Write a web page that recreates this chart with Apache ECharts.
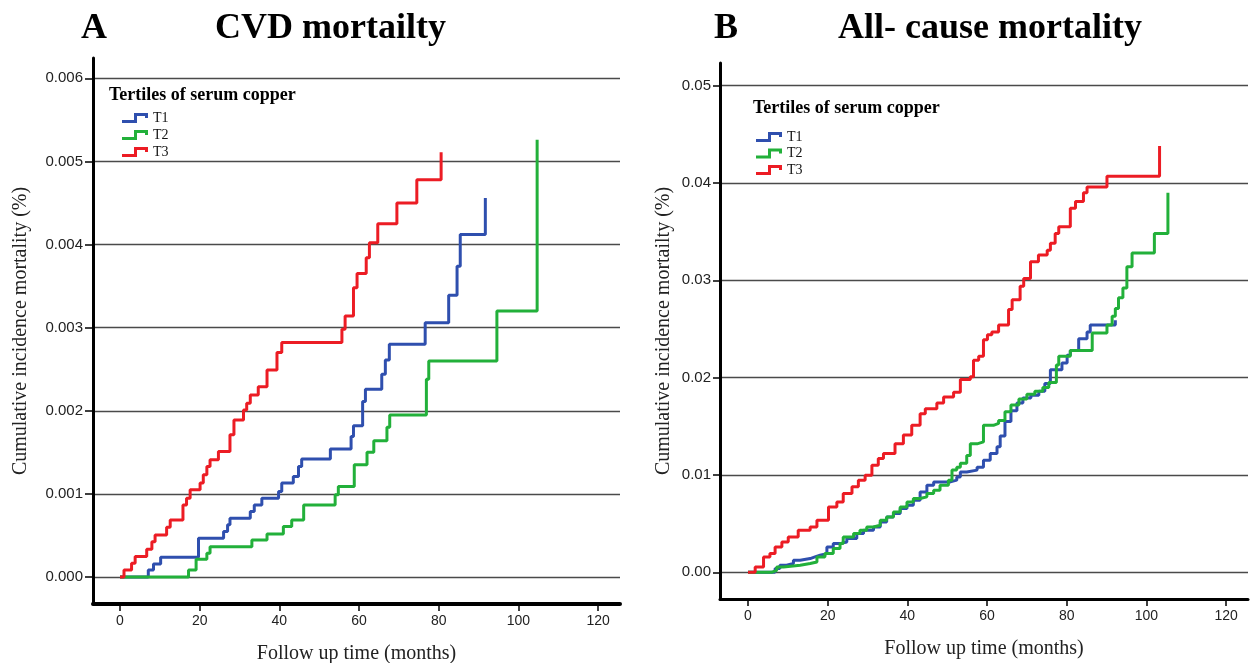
<!DOCTYPE html>
<html>
<head>
<meta charset="utf-8">
<script src="https://cdn.jsdelivr.net/npm/echarts@6.0.0/dist/echarts.min.js"></script>
<style>
  html, body { margin: 0; padding: 0; background: #fff; }
  #chart { width: 1250px; height: 663px; }
</style>
</head>
<body>
<div id="chart"></div>
<script>
// tick values
const monthTicks = [0, 20, 40, 60, 80, 100, 120]
const cvdTicks = [0, 0.001, 0.002, 0.003, 0.004, 0.005, 0.006]
const allTicks = [0, 0.01, 0.02, 0.03, 0.04, 0.05]

// panel A: CVD mortality, [month, cumulative incidence] at each step
const cvdT1 = [[0, 0], [7.1, 0.000084], [8.4, 0.000157], [10.2, 0.000237], [19.7, 0.000466], [26.0, 0.000546], [27.0, 0.000627], [27.6, 0.000707], [32.7, 0.000787], [33.7, 0.000867], [35.6, 0.000948], [39.8, 0.00103], [40.6, 0.00113], [43.5, 0.00121], [44.8, 0.00133], [45.6, 0.00142], [52.8, 0.00154], [58.0, 0.00169], [58.6, 0.00182], [60.9, 0.00211], [61.6, 0.00226], [65.7, 0.00244], [66.6, 0.00261], [67.6, 0.0028], [76.6, 0.00306], [82.5, 0.00339], [84.6, 0.00374], [85.4, 0.00412], [91.7, 0.00456]]
const cvdT2 = [[0, 0], [17.2, 0.000084], [19.1, 0.000213], [21.8, 0.000285], [22.6, 0.000365], [33.1, 0.000446], [36.9, 0.000518], [41.0, 0.000606], [43.1, 0.000687], [46.1, 0.000867], [54.0, 0.00099], [54.8, 0.00109], [58.8, 0.00135], [62.0, 0.0015], [63.7, 0.00164], [67.0, 0.0018], [67.7, 0.00195], [76.9, 0.00238], [77.5, 0.0026], [94.6, 0.0032], [104.7, 0.00526]]
const cvdT3 = [[0, 0], [1.0, 0.000084], [2.9, 0.000165], [3.8, 0.000245], [6.7, 0.000333], [8.0, 0.000425], [8.8, 0.000506], [11.7, 0.000598], [12.6, 0.000687], [15.8, 0.000867], [16.7, 0.000948], [17.6, 0.00105], [20.1, 0.00113], [20.9, 0.00123], [21.8, 0.00133], [22.6, 0.00141], [24.7, 0.00151], [27.6, 0.00171], [28.6, 0.00189], [31.0, 0.00201], [31.8, 0.00209], [32.7, 0.00219], [34.7, 0.00229], [36.9, 0.00249], [39.4, 0.0027], [40.6, 0.00282], [55.7, 0.00298], [56.5, 0.00314], [58.6, 0.00348], [59.5, 0.00365], [61.8, 0.00384], [62.6, 0.00402], [64.7, 0.00425], [69.5, 0.0045], [74.5, 0.00478], [80.6, 0.00511]]

// panel B: all-cause mortality
const allT1 = [[0, 0], [6.8, 0.00038], [8.0, 0.00072], [9.7, 0.0009], [11.4, 0.00123], [13.1, 0.00141], [15.6, 0.00158], [16.8, 0.00175], [18.1, 0.00192], [19.8, 0.0026], [21.4, 0.00295], [23.1, 0.00312], [24.8, 0.00347], [27.3, 0.00398], [29.0, 0.00432], [31.5, 0.00466], [33.2, 0.00518], [34.8, 0.00569], [36.5, 0.00604], [38.2, 0.00655], [39.9, 0.00689], [41.5, 0.0074], [43.2, 0.00826], [44.9, 0.00895], [46.6, 0.00929], [50.8, 0.00947], [52.4, 0.0098], [53.3, 0.0103], [54.9, 0.0105], [57.5, 0.0108], [59.1, 0.0115], [60.8, 0.0122], [62.5, 0.0129], [63.3, 0.014], [64.5, 0.0155], [66.0, 0.0166], [67.5, 0.0174], [69.0, 0.0179], [71.0, 0.0182], [73.0, 0.0186], [74.5, 0.0194], [75.9, 0.0208], [78.8, 0.0215], [80.1, 0.0223], [80.9, 0.0228], [83.0, 0.024], [85.1, 0.0247], [85.9, 0.0254], [92.2, 0.0259]]
const allT2 = [[0, 0], [5.9, 0.0002], [7.2, 0.00055], [8.9, 0.00072], [13.1, 0.0009], [15.6, 0.00106], [17.3, 0.00158], [19.3, 0.00192], [21.4, 0.00244], [23.1, 0.00295], [23.9, 0.00363], [26.5, 0.00398], [28.1, 0.00432], [29.8, 0.00466], [31.5, 0.00484], [33.2, 0.00535], [34.8, 0.00569], [36.5, 0.0062], [38.2, 0.00672], [39.9, 0.00723], [41.5, 0.00758], [43.2, 0.00775], [44.9, 0.0081], [46.6, 0.00844], [48.2, 0.00895], [50.3, 0.00947], [51.2, 0.0105], [52.4, 0.0108], [53.3, 0.0112], [54.9, 0.012], [55.8, 0.0132], [57.5, 0.0134], [59.1, 0.0151], [61.6, 0.0153], [62.9, 0.0156], [64.5, 0.0165], [66.0, 0.0172], [68.0, 0.0178], [70.0, 0.0183], [72.0, 0.0186], [74.0, 0.019], [75.5, 0.0195], [77.4, 0.0213], [78.0, 0.0222], [80.9, 0.0228], [86.4, 0.0246], [90.1, 0.0254], [91.4, 0.0263], [92.2, 0.0271], [93.0, 0.0282], [94.1, 0.0292], [95.1, 0.0314], [96.4, 0.0328], [102.0, 0.0348], [105.4, 0.039]]
const allT3 = [[0, 0], [1.8, 0.00055], [3.9, 0.00158], [5.5, 0.00192], [6.8, 0.0026], [8.5, 0.00312], [10.1, 0.00363], [12.6, 0.00432], [15.6, 0.00466], [17.3, 0.00535], [20.2, 0.00672], [22.3, 0.00723], [23.9, 0.0081], [26.1, 0.00878], [27.7, 0.00947], [29.4, 0.00998], [31.1, 0.011], [32.7, 0.0117], [34.0, 0.0122], [36.9, 0.0132], [39.0, 0.0141], [41.1, 0.0151], [43.2, 0.0163], [44.5, 0.0168], [47.4, 0.0174], [49.1, 0.018], [51.6, 0.0185], [53.3, 0.0198], [55.8, 0.0201], [56.6, 0.0218], [57.9, 0.0222], [59.1, 0.0239], [60.1, 0.0244], [61.2, 0.0247], [62.9, 0.0254], [65.4, 0.027], [66.3, 0.028], [68.3, 0.0294], [69.2, 0.0302], [70.9, 0.0319], [72.9, 0.0326], [75.1, 0.0331], [75.9, 0.0338], [77.1, 0.0348], [78.0, 0.0355], [80.9, 0.0374], [82.2, 0.0381], [84.2, 0.039], [85.1, 0.0396], [90.1, 0.0407], [103.3, 0.0438]]

const groups = ['T1', 'T2', 'T3']
const colors = ['#2f4fae', '#22b03a', '#ec1c24']

const serif = 'Liberation Serif'
const sans = 'Liberation Sans'

// step-shaped legend mark, same 26x10 proportions as the item box
const stepIcon = 'path://M0,7 L12,7 L12,0 L26,0 L26,5 L23,5 L23,3 L15,3 L15,10 L0,10 Z'

const chart = echarts.init(document.getElementById('chart'), null, { renderer: 'canvas' })

const xAxisBase = (gridIndex, min, max, gap) => ({
  type: 'value',
  gridIndex: gridIndex,
  min: min,
  max: max,
  name: 'Follow up time (months)',
  nameLocation: 'middle',
  nameGap: gap,
  nameTextStyle: { fontFamily: serif, fontSize: 20, color: '#222' },
  axisLine: { onZero: false, lineStyle: { color: '#000', width: gridIndex === 0 ? 4 : 3 } },
  axisTick: { show: true, length: 7, lineStyle: { color: '#000', width: 1.5 }, customValues: monthTicks },
  axisLabel: { fontFamily: sans, fontSize: 14, color: '#222', margin: 10, customValues: monthTicks },
  splitLine: { show: false },
})

const yAxisBase = (gridIndex, min, max, ticks, digits, nameText, gap, labelSize, tickLen) => ({
  type: 'value',
  gridIndex: gridIndex,
  min: min,
  max: max,
  name: nameText,
  nameLocation: 'middle',
  nameGap: gap,
  nameTextStyle: { fontFamily: serif, fontSize: 20, color: '#222' },
  axisLine: { show: true, onZero: false, lineStyle: { color: '#000', width: 3 } },
  axisTick: { show: true, length: tickLen, lineStyle: { color: '#000', width: 1.5 }, customValues: ticks },
  axisLabel: {
    fontFamily: sans,
    fontSize: labelSize,
    color: '#222',
    margin: tickLen + 2,
    customValues: ticks,
    formatter: (v) => v.toFixed(digits),
  },
  splitLine: { show: true, lineStyle: { color: '#4a4a4a', width: 1.4 } },
})

const stepSeries = (name, data, idx, axisIndex) => ({
  name: name,
  type: 'line',
  step: 'end',
  xAxisIndex: axisIndex,
  yAxisIndex: axisIndex,
  symbol: 'none',
  lineStyle: { color: colors[idx], width: 3 },
  itemStyle: { color: colors[idx] },
  data: data,
})

const legendBase = (left, top, gap) => ({
  orient: 'vertical',
  left: left,
  top: top,
  icon: stepIcon,
  itemWidth: 26,
  itemHeight: 10,
  itemGap: gap,
  selectedMode: false,
  itemStyle: { borderWidth: 0 },
  textStyle: { fontFamily: serif, fontSize: 14, color: '#111' },
  data: groups,
})

const titleStyle = (size) => ({ fontFamily: serif, fontWeight: 'bold', fontSize: size, color: '#000' })

const option = {
  backgroundColor: '#ffffff',
  animation: false,
  title: [
    { text: 'A', left: 76, top: 6, textStyle: titleStyle(36) },
    { text: 'CVD mortailty', left: 210, top: 6, textStyle: titleStyle(36) },
    { text: 'B', left: 709, top: 6, textStyle: titleStyle(36) },
    { text: 'All- cause mortality', left: 833, top: 6, textStyle: titleStyle(36) },
    { text: 'Tertiles of serum copper', left: 104, top: 81, textStyle: titleStyle(18) },
    { text: 'Tertiles of serum copper', left: 748, top: 94, textStyle: titleStyle(18) },
  ],
  legend: [
    legendBase(117, 106, 3),
    legendBase(751, 125, 2.5),
  ],
  grid: [
    { left: 93, top: 58, width: 527, height: 546, outerBoundsMode: 'none' },
    { left: 720, top: 63, width: 528, height: 536, outerBoundsMode: 'none' },
  ],
  xAxis: [
    xAxisBase(0, -6.78, 125.5, 40),
    xAxisBase(1, -7.03, 125.5, 40),
  ],
  yAxis: [
    yAxisBase(0, -0.000325, 0.006244, cvdTicks, 3, 'Cumulative incidence mortality (%)', 62, 15, 8),
    yAxisBase(1, -0.002744, 0.05233, allTicks, 2, 'Cumulative incidence mortailty (%)', 46, 15, 7),
  ],
  series: [
    stepSeries('T1', cvdT1, 0, 0),
    stepSeries('T2', cvdT2, 1, 0),
    stepSeries('T3', cvdT3, 2, 0),
    stepSeries('T1', allT1, 0, 1),
    stepSeries('T2', allT2, 1, 1),
    stepSeries('T3', allT3, 2, 1),
  ],
}

chart.setOption(option)
</script>
</body>
</html>
